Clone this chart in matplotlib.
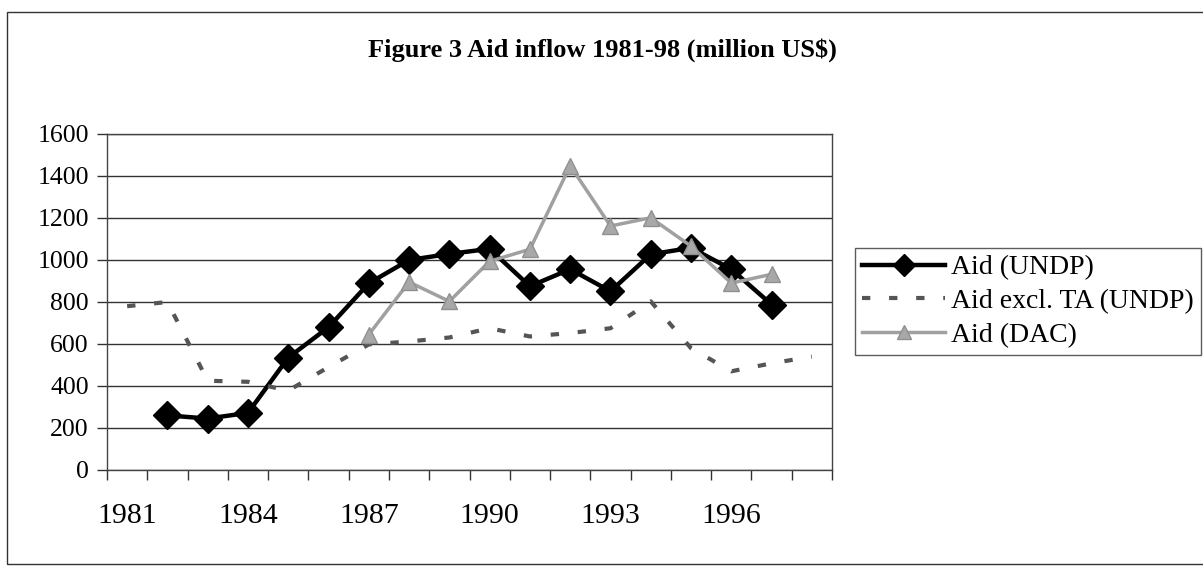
import matplotlib
matplotlib.use("Agg")
import matplotlib.pyplot as plt
from matplotlib.patches import Rectangle
import numpy as np

years = list(range(1981, 1999))
aid_undp = [None, 260, 245, 272, 535, 680, 889, 1000, 1029, 1053, 875, 956, 851, 1027, 1058, 956, 788, None]
aid_excl_ta = [780, 800, 425, 420, 378, 490, 598, 612, 631, 675, 636, 652, 675, 803, 580, 470, 508, 540]
aid_dac = [None, None, None, None, None, None, 645, 895, 803, 994, 1051, 1449, 1162, 1201, 1066, 890, 932, None]
tick_labels = ["1981", "1984", "1987", "1990", "1993", "1996"]

plt.rcParams['font.family'] = ['Liberation Serif', 'DejaVu Serif']

fig = plt.figure(figsize=(12.03, 5.67), dpi=100)
fig.patch.set_facecolor('white')
ax = fig.add_axes([107/1203, 1-470/567, (832-107)/1203, (470-134)/567])

x = np.arange(len(years)) + 0.5

def arr(v):
    return np.array([np.nan if a is None else a for a in v], dtype=float)

ax.plot(x, arr(aid_undp), color='black', lw=3.2, marker='D', markersize=14,
        markerfacecolor='black', markeredgecolor='black', label='Aid (UNDP)', zorder=3)
ax.plot(x, arr(aid_excl_ta), color='#555555', lw=3, linestyle=(0, (2, 4.5)),
        label='Aid excl. TA (UNDP)', zorder=4)
ax.plot(x, arr(aid_dac), color='#a0a0a0', lw=2.5, marker='^', markersize=12,
        markerfacecolor='#a8a8a8', markeredgecolor='#909090', label='Aid (DAC)', zorder=5)

ax.set_xlim(0, len(years))
ax.set_ylim(0, 1600)
ax.set_yticks(np.arange(0, 1601, 200))
ax.set_yticklabels([str(v) for v in range(0, 1601, 200)], fontsize=18.5)
ax.set_xticks(np.arange(0, len(years), 3) + 0.5)
ax.set_xticklabels(tick_labels, fontsize=21.5)
ax.set_xticks(np.arange(0, len(years) + 1), minor=True)
ax.tick_params(axis='x', which='major', length=0, pad=24)
ax.tick_params(axis='x', which='minor', direction='out', length=7, width=1, color='#333333')
ax.tick_params(axis='y', direction='out', length=7, width=1, color='#333333', pad=6)
ax.grid(axis='y', color='#333333', lw=1)
ax.set_axisbelow(True)
for s in ax.spines.values():
    s.set_color('#444444')
    s.set_linewidth(1)

leg = fig.legend(loc='upper left', bbox_to_anchor=(855/1203, 1-248/567), fontsize=20,
                 frameon=True, fancybox=False, edgecolor='#333333', borderpad=0.25,
                 handlelength=3.0, handletextpad=0.2, labelspacing=0.3, borderaxespad=0,
                 markerscale=0.8)
leg.get_frame().set_linewidth(1)

fig.text(602/1203, 1-50/567, "Figure 3 Aid inflow 1981-98 (million US\\$)", ha='center', va='center',
         fontsize=19, fontweight='bold')

fig.add_artist(Rectangle((7/1203, 1-564/567), (1210-7)/1203, (564-12)/567, transform=fig.transFigure,
                         fill=False, edgecolor='#333333', lw=1, clip_on=False))

fig.savefig('out.png', dpi=100, facecolor='white')
